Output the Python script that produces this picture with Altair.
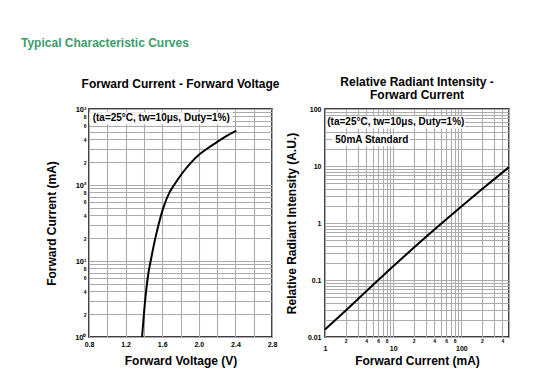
import altair as alt
import pandas as pd

FONT = "Liberation Sans"

# ---- data: Forward Current vs Forward Voltage
vf_volts = [1.380, 1.400, 1.424, 1.450, 1.474, 1.525, 1.560, 1.612, 1.680, 1.730, 1.825, 1.920, 2.008, 2.090, 2.190, 2.300, 2.410]
if_ma = [1, 2, 4, 7, 10, 20, 30, 50, 80, 100, 146, 200, 253, 300, 361, 440, 520]

# ---- data: Relative Radiant Intensity vs Forward Current
ir_current = [1, 2, 5, 10, 20, 50, 100, 200, 500]
ir_rel = [0.0135, 0.029, 0.081, 0.174, 0.367, 0.96, 1.95, 3.9, 9.55]

# ---- axis tick values / labels
v_ticks = [0.8, 1.0, 1.2, 1.4, 1.6, 1.8, 2.0, 2.2, 2.4, 2.6, 2.8]
i_ticks = [m * 10 ** e for e in range(0, 3) for m in range(1, 10)] + [1000]
x2_ticks = [m * 10 ** e for e in range(0, 3) for m in range(1, 10) if m * 10 ** e <= 500]
y2_ticks = [round(m * 10.0 ** e, 6) for e in range(-2, 2) for m in range(1, 10)] + [100]

# ---- annotations
note_text = ["(ta=25°C, tw=10μs, Duty=1%)"]
note_v, note_i = [0.84], [752]
note_box_v, note_box_v2 = [0.805], [2.37]
note_box_i, note_box_i2 = [630], [905]

r_text = ["(ta=25°C, tw=10μs, Duty=1%)", "50mA Standard"]
r_x, r_y = [1.08, 1.415], [58.5, 28.2]
r_box_x, r_box_x2 = [1.045, 1.28], [113, 17.7]
r_box_y, r_box_y2 = [45.7, 22.2], [74.5, 36]

GRID = "#ababab"
M = "round(datum.value / pow(10, floor(log(datum.value) / LN10 + 1e-6)))"
MAJOR = f"{M} == 1"

common_axis = dict(
    grid=True, gridColor=GRID, gridWidth=1.1, ticks=False, domain=False,
    labelFont=FONT, labelFontWeight="bold", labelColor="black",
    titleFont=FONT, titleFontWeight="bold", titleFontSize=12, titleColor="black",
    labelOverlap=False, labelFlush=False,
)

# ---------------- Left chart
xl = alt.X("v:Q", scale=alt.Scale(domain=[0.8, 2.8], nice=False, zero=False),
           axis=alt.Axis(values=v_ticks, title="Forward Voltage (V)",
                         labelExpr="round(datum.value * 10) % 4 == 0 ? format(datum.value, '.1f') : ''",
                         labelFontSize=7, labelPadding=3, titlePadding=8, **common_axis))
yl = alt.Y("i:Q", scale=alt.Scale(type="log", domain=[1, 1000], nice=False),
           axis=alt.Axis(values=i_ticks, title="Forward Current (mA)",
                         labelExpr=f"{MAJOR} ? '10' + ['⁰','¹','²','³'][round(log(datum.value)/LN10)] : ({M} % 2 == 0 ? '' + {M} : '')",
                         labelFontSize={"condition": {"test": MAJOR, "value": 7.5}, "value": 5},
                         labelPadding=3, titlePadding=16, **common_axis))

fv = pd.DataFrame({"v": vf_volts, "i": if_ma})
nb = pd.DataFrame({"v": note_box_v, "v2": note_box_v2, "i": note_box_i, "i2": note_box_i2})
nt = pd.DataFrame({"v": note_v, "i": note_i, "t": note_text})

left = alt.layer(
    alt.Chart(nb).mark_rect(fill="white").encode(x=xl, x2="v2:Q", y=yl, y2="i2:Q"),
    alt.Chart(nt).mark_text(align="left", baseline="middle", font=FONT, fontWeight="bold",
                            fontSize=10, color="black").encode(x=xl, y=yl, text="t:N"),
    alt.Chart(fv).mark_line(color="black", strokeWidth=2, interpolate="monotone").encode(x=xl, y=yl),
).properties(
    width=183, height=228,
    title=alt.TitleParams("Forward Current - Forward Voltage", font=FONT, fontSize=12,
                          fontWeight="bold", color="black", baseline="bottom", offset=2),
)

# ---------------- Right chart
xr = alt.X("c:Q", scale=alt.Scale(type="log", domain=[1, 500], nice=False),
           axis=alt.Axis(values=x2_ticks, title="Forward Current (mA)",
                         labelExpr=f"{MAJOR} ? format(datum.value, 'd') : ({M} % 2 == 0 ? '' + {M} : '')",
                         labelFontSize={"condition": {"test": MAJOR, "value": 7}, "value": 5},
                         labelPadding={"condition": {"test": MAJOR, "value": 7}, "value": 1},
                         titlePadding=4, **common_axis))
yr = alt.Y("r:Q", scale=alt.Scale(type="log", domain=[0.01, 100], nice=False),
           axis=alt.Axis(values=y2_ticks, title="Relative Radiant Intensity (A.U.)",
                         labelExpr=f"{MAJOR} ? format(datum.value, '~g') : ''",
                         labelFontSize=7, labelPadding=4, titlePadding=9, **common_axis))

rd = pd.DataFrame({"c": ir_current, "r": ir_rel})
rb = pd.DataFrame({"c": r_box_x, "c2": r_box_x2, "r": r_box_y, "r2": r_box_y2})
rt = pd.DataFrame({"c": r_x, "r": r_y, "t": r_text})

right = alt.layer(
    alt.Chart(rb).mark_rect(fill="white").encode(x=xr, x2="c2:Q", y=yr, y2="r2:Q"),
    alt.Chart(rt).mark_text(align="left", baseline="middle", font=FONT, fontWeight="bold",
                            fontSize=10, color="black").encode(x=xr, y=yr, text="t:N"),
    alt.Chart(rd).mark_line(color="black", strokeWidth=2, interpolate="monotone").encode(x=xr, y=yr),
).properties(
    width=184, height=228,
    title=alt.TitleParams(["Relative Radiant Intensity -", "Forward Current"], font=FONT, fontSize=12,
                          fontWeight="bold", color="black", baseline="bottom", offset=-9, lineHeight=13),
)

chart = alt.hconcat(left, right, spacing=53).properties(
    bounds="flush",
    title=alt.TitleParams("Typical Characteristic Curves", anchor="start", frame="group", dx=-68,
                          font=FONT, fontSize=12, fontWeight="bold", color="#3c9c6a", offset=25),
    padding={"left": 13, "top": 29, "right": 10, "bottom": 10},
).configure_view(stroke="black", strokeWidth=1.5)

chart.save("out.html", embed_options={"renderer": "svg", "actions": False})
